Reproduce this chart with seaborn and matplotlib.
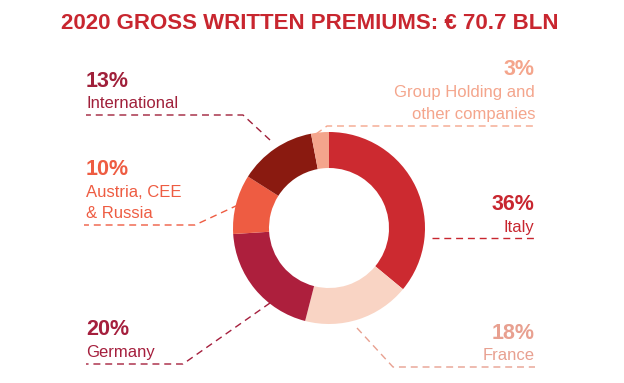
import matplotlib
matplotlib.use("Agg")
import matplotlib.pyplot as plt
import seaborn as sns

segments = ["Italy", "France", "Germany", "Austria, CEE\n& Russia", "International",
            "Group Holding and\nother companies"]
shares = [36, 18, 20, 10, 13, 3]
slice_colors = ["#cc2a30", "#f9d4c4", "#ad1f3d", "#ee5c42", "#8a1a10", "#f4a58c"]
label_colors = ["#c8262f", "#e8a090", "#a51f3d", "#ee5c42", "#a0203a", "#f4a58c"]
title = "2020 GROSS WRITTEN PREMIUMS: € 70.7 BLN"

sns.set_theme(style="white")
plt.rcParams["font.family"] = ["Liberation Sans", "DejaVu Sans"]

W, H = 624, 383
fig = plt.figure(figsize=(W / 100, H / 100), dpi=100)
ax = fig.add_axes([0, 0, 1, 1])


def Y(y):
    # pixel row (from top) -> data y
    return H - y


cx, cy, r_out, r_in = 329, 228, 96, 60
ax.pie(shares, colors=slice_colors, startangle=90, counterclock=False,
       center=(cx, Y(cy)), radius=r_out,
       wedgeprops=dict(width=r_out - r_in, linewidth=0))
ax.set_xlim(0, W)
ax.set_ylim(0, H)
ax.set_aspect("equal")
ax.axis("off")

ax.text(310, Y(29), title, ha="center", va="baseline", fontsize=16,
        fontweight="bold", color="#c8262f")

# label layout: (x, pct baseline, name baseline, align)
layout = {
    "Italy": (534, 210, 232, "right"),
    "France": (535, 339, 360, "right"),
    "Germany": (86, 335, 357, "left"),
    "Austria, CEE\n& Russia": (86, 175, 197, "left"),
    "International": (86, 87, 108, "left"),
    "Group Holding and\nother companies": (535, 75, 97, "right"),
}
# leader lines in pixel coords
leaders = {
    "Italy": [(432, 238), (535, 238)],
    "France": [(357, 328), (393, 367), (535, 367)],
    "Germany": [(270, 303), (183, 364), (86, 364)],
    "Austria, CEE\n& Russia": [(238, 205), (195, 225), (84, 225)],
    "International": [(270, 140), (243, 115), (86, 115)],
    "Group Holding and\nother companies": [(316, 134), (327, 126), (535, 126)],
}

for name, pct, col in zip(segments, shares, label_colors):
    x, yp, yn, ha = layout[name]
    ax.text(x, Y(yp), f"{pct}%", ha=ha, va="baseline", fontsize=15.5,
            fontweight="bold", color=col)
    lines = name.split("\n")
    for i, line in enumerate(lines):
        ax.text(x, Y(yn + i * 21.5), line, ha=ha, va="baseline", fontsize=12,
                color=col)
    pts = leaders[name]
    ax.plot([p[0] for p in pts], [Y(p[1]) for p in pts], color=col, lw=1,
            dashes=(5, 3.5))

fig.savefig("out.png", dpi=100)
